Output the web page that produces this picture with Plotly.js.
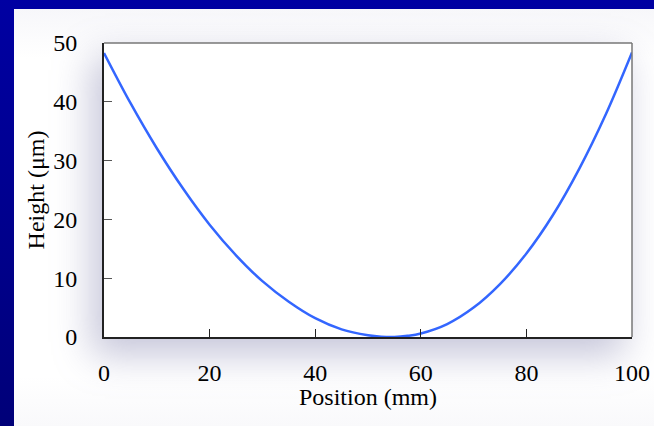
<!DOCTYPE html>
<html>
<head>
<meta charset="utf-8">
<script src="https://cdn.plot.ly/plotly-3.0.1.min.js"></script>
<style>
  html, body { margin: 0; padding: 0; }
  body { width: 654px; height: 426px; overflow: hidden; position: relative;
         background: linear-gradient(to bottom, #0000a2 0%, #00008a 60%, #000078 100%); }
  #panel { position: absolute; left: 14px; top: 9px; width: 640px; height: 417px;
           background: linear-gradient(to bottom, #f7f7fa 0%, #ffffff 12%, #ffffff 88%, #f9f9fb 100%); }
  #shadow { position: absolute; left: 104px; top: 43px; width: 528px; height: 294px;
            background: #ffffff;
            box-shadow: -10px 16px 36px 2px rgba(110,110,160,0.40); }
  #chart { position: absolute; left: 0; top: 0; width: 654px; height: 426px; }
</style>
</head>
<body>
<div id="panel"></div>
<div id="shadow"></div>
<div id="chart"></div>
<script>
// Profile
const position = [0, 5, 10, 15, 20, 25, 30, 35, 40, 45, 50, 52.5, 55, 57.5, 60, 65, 70, 75, 80, 85, 90, 95, 100];
const height   = [48.3, 39.8, 32.1, 25.2, 19.1, 13.9, 9.5, 6.0, 3.2, 1.3, 0.3, 0.05, 0.0, 0.2, 0.6, 2.2, 5.0, 9.0, 14.2, 20.7, 28.6, 37.8, 48.4];
const xTicks = [0, 20, 40, 60, 80, 100];
const yTicks = [0, 10, 20, 30, 40, 50];
const xTitle = 'Position (mm)';
const yTitle = 'Height (μm)';

const font = {family: '"Liberation Serif", "Times New Roman", serif', size: 24, color: '#000'};

const trace = {
  x: position, y: height, type: 'scatter', mode: 'lines',
  line: {color: '#3366ff', width: 2.5, shape: 'spline', smoothing: 1},
  hoverinfo: 'skip'
};

const layout = {
  width: 654, height: 426,
  margin: {l: 104, r: 22, t: 43, b: 89, pad: 0},
  paper_bgcolor: 'rgba(0,0,0,0)',
  plot_bgcolor: '#ffffff',
  showlegend: false,
  font: font,
  xaxis: {
    range: [0, 100], tickvals: xTicks, ticktext: xTicks.map(String),
    ticks: 'inside', ticklen: 8, tickwidth: 1, tickcolor: '#222',
    showline: true, linecolor: '#222', linewidth: 2, mirror: false,
    showgrid: false, zeroline: false, fixedrange: true,
    tickfont: font, ticklabelstandoff: 13
  },
  yaxis: {
    range: [0, 50], tickvals: yTicks, ticktext: yTicks.map(String),
    ticks: 'inside', ticklen: 8, tickwidth: 1, tickcolor: '#555',
    showline: true, linecolor: '#222', linewidth: 2, mirror: false,
    showgrid: false, zeroline: false, fixedrange: true,
    tickfont: font, ticklabelstandoff: 20,
    title: {text: yTitle, font: font, standoff: 2}
  },
  annotations: [
    {text: xTitle, xref: 'paper', yref: 'paper', x: 0.5, y: 0, xanchor: 'center', yanchor: 'middle',
     yshift: -60, showarrow: false, font: font}
  ],
  shapes: [
    {type: 'line', xref: 'paper', yref: 'paper', x0: 0, x1: 1, y0: 1, y1: 1, line: {color: '#777', width: 1.5}},
    {type: 'line', xref: 'paper', yref: 'paper', x0: 1, x1: 1, y0: 0, y1: 1, line: {color: '#777', width: 1.5}}
  ]
};

Plotly.newPlot('chart', [trace], layout, {displayModeBar: false, staticPlot: true});
</script>
</body>
</html>
